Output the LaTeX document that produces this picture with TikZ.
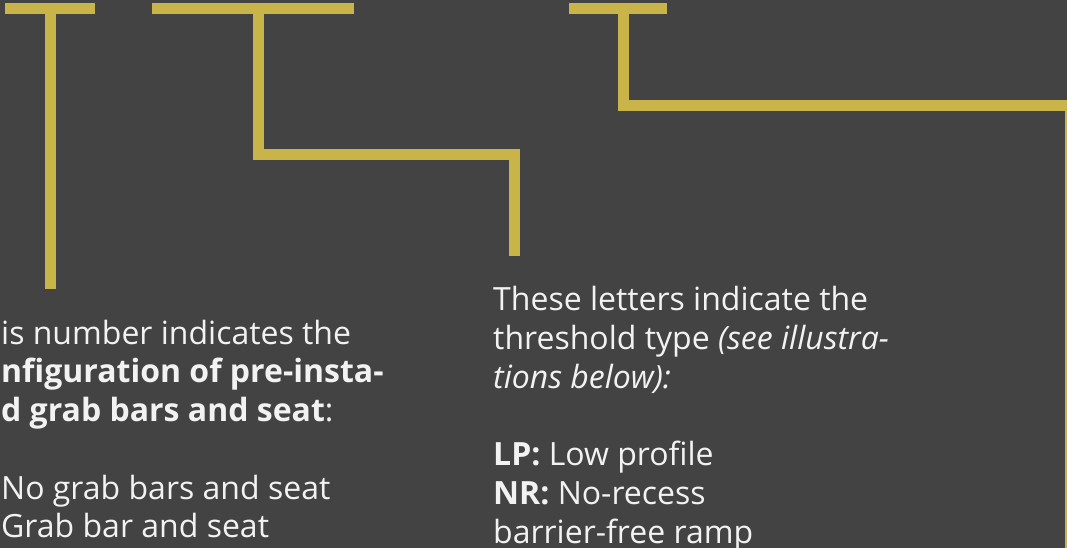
\documentclass[tikz,border=0pt]{standalone}
\usepackage{fontspec}
\setmainfont{Open Sans}
\definecolor{bg}{RGB}{67,67,67}
\definecolor{gold}{RGB}{201,180,74}
\definecolor{txt}{RGB}{242,242,242}
\begin{document}
\begin{tikzpicture}[x=1pt, y=-1pt,
  bar/.style={draw=gold, line width=11pt, line join=miter},
  note/.style={text=txt, font=\fontsize{32}{38.7}\selectfont, align=left, anchor=base west, inner sep=0pt}]
\fill[bg] (0,0) rectangle (1067,548);
\clip (0,0) rectangle (1067,548);
% first bracket
\coordinate (a1) at (5,8.5);
\coordinate (a2) at (95,8.5);
\coordinate (a3) at (50.5,8.5);
\coordinate (a4) at (50.5,289);
% second bracket
\coordinate (b1) at (152,8.5);
\coordinate (b2) at (354,8.5);
\coordinate (b3) at (258.5,3);
\coordinate (b4) at (514.5,154.5);
\coordinate (b5) at (514.5,256);
% third bracket
\coordinate (c1) at (569,8.5);
\coordinate (c2) at (667,8.5);
\coordinate (c3) at (623.5,3);
\coordinate (c4) at (1070,105.5);
\coordinate (c5) at (1070,560);
\draw[bar] (a1) -- (a2);
\draw[bar] (a3) -- (a4);
\draw[bar] (b1) -- (b2);
\draw[bar] (b3) |- (b4) -- (b5);
\draw[bar] (c1) -- (c2);
\draw[bar] (c3) |- (c4) -- (c5);
% text blocks (anchored at the last baseline)
\node[note] (config) at (1,537.7) {is number indicates the\\
  \textbf{nfiguration of pre-insta-}\\
  \textbf{d grab bars and seat}:\\[38.7pt]
  No grab bars and seat\\
  Grab bar and seat};
\node[note] (threshold) at (493,543) {These letters indicate the\\
  threshold type \textit{(see illustra-}\\
  \textit{tions below):}\\[38.7pt]
  \textbf{LP:} Low profile\\
  \textbf{NR:} No-recess\\
  barrier-free ramp};
\end{tikzpicture}
\end{document}
